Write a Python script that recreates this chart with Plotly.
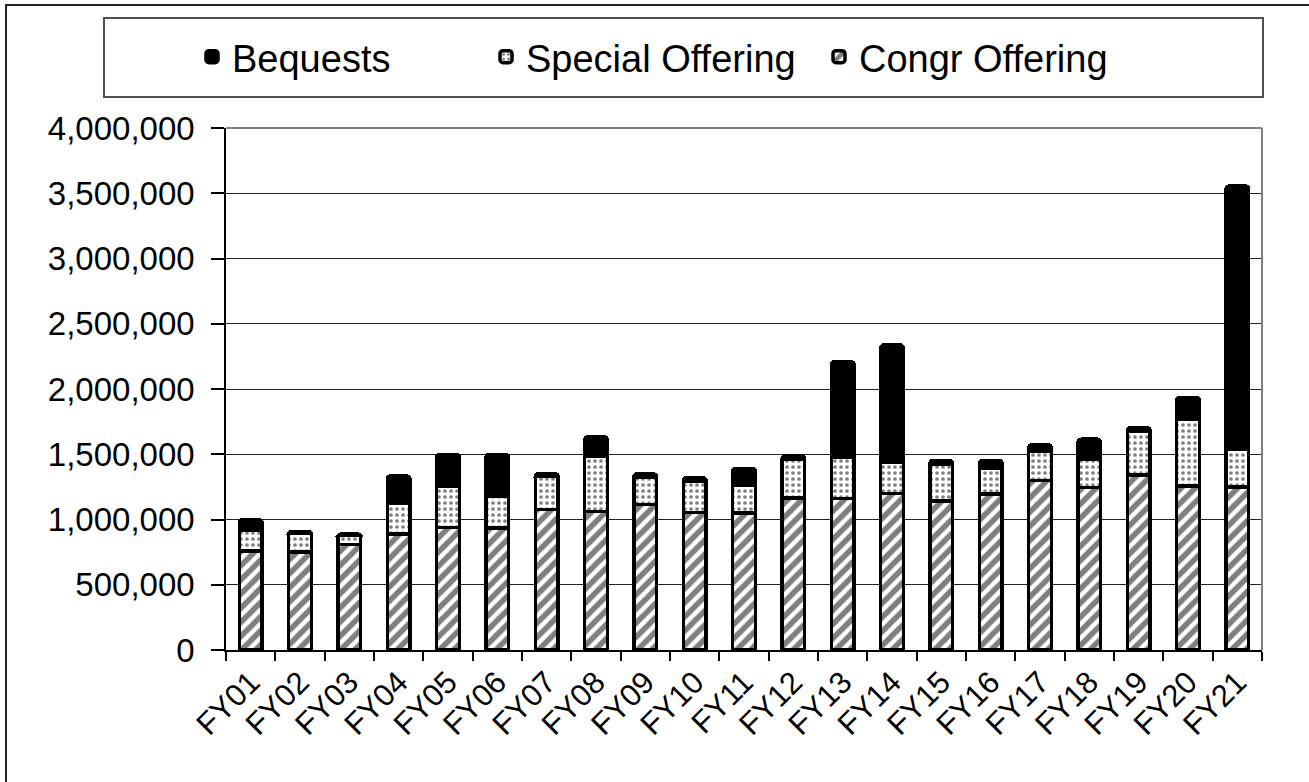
import plotly.graph_objects as go

# ---- data ----
categories = ["FY01", "FY02", "FY03", "FY04", "FY05", "FY06", "FY07", "FY08", "FY09", "FY10",
              "FY11", "FY12", "FY13", "FY14", "FY15", "FY16", "FY17", "FY18", "FY19", "FY20", "FY21"]
congr_offering = [760000, 750000, 810000, 890000, 940000, 935000, 1075000, 1060000, 1115000, 1055000,
                  1050000, 1165000, 1160000, 1200000, 1140000, 1195000, 1300000, 1245000, 1340000, 1255000, 1250000]
special_offering = [160000, 145000, 70000, 235000, 315000, 240000, 255000, 425000, 210000, 240000,
                    215000, 295000, 320000, 235000, 285000, 195000, 220000, 220000, 340000, 510000, 290000]
bequests = [80000, 15000, 9000, 208000, 245000, 325000, 20000, 148000, 24000, 25000,
            127000, 27000, 730000, 902000, 29000, 64000, 51000, 150000, 25000, 170000, 2015000]
y_ticks = [0, 500000, 1000000, 1500000, 2000000, 2500000, 3000000, 3500000, 4000000]

# ---- geometry (pixels) ----
W, H = 1309, 782
L, R, T, B = 226, 1262, 128, 650
PW, PH = R - L, B - T


def px(x):
    return (x - L) / PW


def py(y):
    return (B - y) / PH


FONT = "Liberation Sans, Arial, sans-serif"
line = dict(color="black", width=3.5)

fig = go.Figure()
fig.add_trace(go.Bar(
    x=categories, y=congr_offering, name="Congr Offering", legend="legend3",
    marker=dict(color="white", line=line,
                pattern=dict(shape="/", fgcolor="black", bgcolor="white", size=10, solidity=0.55)),
))
fig.add_trace(go.Bar(
    x=categories, y=special_offering, name="Special Offering", legend="legend2",
    marker=dict(color="white", line=line,
                pattern=dict(shape=".", fgcolor="black", bgcolor="white", size=6, solidity=0.3)),
))
fig.add_trace(go.Bar(
    x=categories, y=bequests, name="Bequests", legend="legend",
    marker=dict(color="black", line=line),
))

leg_common = dict(orientation="h", yanchor="middle", y=py(57), xanchor="left", visible=True,
                  bgcolor="rgba(0,0,0,0)", font=dict(family=FONT, size=38, color="black"))

fig.update_layout(
    width=W, height=H,
    showlegend=True,
    margin=dict(l=L, r=W - R, t=T, b=H - B, autoexpand=False),
    paper_bgcolor="white", plot_bgcolor="white",
    barmode="stack", bargap=0.54, barcornerradius=3,
    font=dict(family=FONT, color="black"),
    legend=dict(leg_common, x=px(192)),
    legend2=dict(leg_common, x=px(486)),
    legend3=dict(leg_common, x=px(819)),
    xaxis=dict(type="category", tickson="boundaries", ticks="outside", ticklen=9, tickcolor="black",
               tickwidth=1.5, showline=True, linecolor="black", linewidth=1.5, showgrid=False,
               tickangle=-45, tickfont=dict(family=FONT, size=31, color="black")),
    yaxis=dict(range=[0, 4000000], tickvals=y_ticks, tickformat=",", ticks="outside", ticklen=13,
               tickcolor="black", tickwidth=1.5, showline=True, linecolor="black", linewidth=1.5,
               showgrid=True, gridcolor="#222222", gridwidth=1, zeroline=False,
               ticklabelstandoff=10, tickfont=dict(family=FONT, size=33, color="black")),
    shapes=[
        # plot-area border (top/right, gray)
        dict(type="line", xref="paper", yref="paper", x0=0, x1=1, y0=1, y1=1,
             line=dict(color="#808080", width=2)),
        dict(type="line", xref="paper", yref="paper", x0=1, x1=1, y0=0, y1=1,
             line=dict(color="#808080", width=2)),
        # legend box
        dict(type="rect", xref="paper", yref="paper", x0=px(104), x1=px(1263), y0=py(97), y1=py(18),
             line=dict(color="#505050", width=2)),
        # outer chart frame
        dict(type="rect", xref="paper", yref="paper", x0=px(6), x1=px(1330), y0=py(800), y1=py(5),
             line=dict(color="#222222", width=2)),
    ],
)

fig.write_html("out.html", config={"displayModeBar": False},
               post_script="document.body.style.margin='0';")
